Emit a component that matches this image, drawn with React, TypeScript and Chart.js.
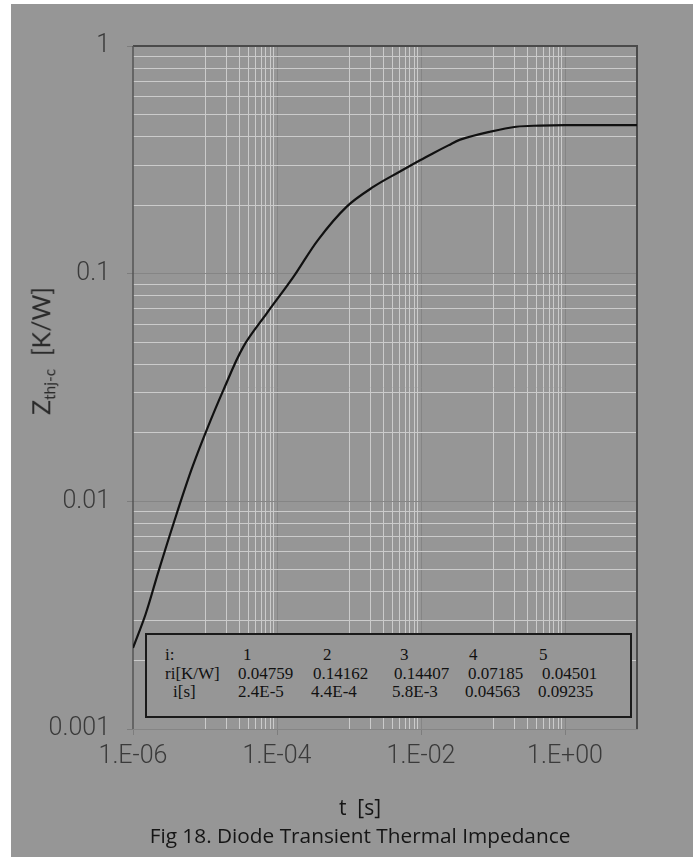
import React, { useEffect, useRef } from "react";
import { Chart, registerables } from "chart.js";

Chart.register(...registerables);

// ---- data ----
const timeS = [1e-6, 1.5e-6, 2.25e-6, 3.8e-6, 6.5e-6, 1.05e-5, 1.8e-5, 3.4e-5, 7.2e-5, 1.7e-4, 3.7e-4, 9.3e-4, 2.2e-3, 5.1e-3, 9.7e-3, 1.5e-2, 2.4e-2, 3.5e-2, 9.1e-2, 0.21, 0.45, 1, 10];
const zthKW = [0.00227, 0.0032, 0.0049, 0.0083, 0.0138, 0.0205, 0.0308, 0.0477, 0.0669, 0.097, 0.1405, 0.197, 0.241, 0.281, 0.315, 0.339, 0.366, 0.388, 0.42, 0.442, 0.447, 0.449, 0.449];

const xLabelValues = [1e-6, 1e-4, 1e-2, 1];
const xLabelTexts = ["1.E-06", "1.E-04", "1.E-02", "1.E+00"];
const xMinorDecades = [1e-5, 1e-3, 1e-1];
const xMin = 1e-6;
const xMax = 10;

const yLabelValues = [0.001, 0.01, 0.1, 1];
const yLabelTexts = ["0.001", "0.01", "0.1", "1"];
const yMinorDecades = [0.001, 0.01, 0.1];
const yMin = 0.001;
const yMax = 1;

const tableHeader = ["i:", "ri[K/W]", "i[s]"];
const tableIndex = ["1", "2", "3", "4", "5"];
const tableRi = ["0.04759", "0.14162", "0.14407", "0.07185", "0.04501"];
const tableTau = ["2.4E-5", "4.4E-4", "5.8E-3", "0.04563", "0.09235"];

const multipliers = [1, 2, 3, 4, 5, 6, 7, 8, 9];

// ---- layout / style ----
const BG = "#969696";
const MINOR = "#cbcbcb";
const MAJOR = "#858585";
const TICK_FONT = { family: "Roboto", size: 25, weight: "300" as any };
const TICK_COLOR = "#3a3a3a";

const near = (a: number, b: number) => Math.abs(Math.log10(a) - Math.log10(b)) < 1e-6;
const labelIndex = (vals: number[], v: number) => vals.findIndex((x) => near(x, v));

function buildGrid(minors: number[], labels: number[], max: number) {
  const out: number[] = [];
  labels.forEach((v) => out.push(v));
  minors.forEach((d) => multipliers.forEach((m) => out.push(d * m)));
  out.push(max);
  const uniq: number[] = [];
  out.sort((a, b) => a - b).forEach((v) => {
    if (!uniq.some((u) => near(u, v))) uniq.push(v);
  });
  return uniq;
}

const xGrid = buildGrid(xMinorDecades, xLabelValues, xMax);
const yGrid = buildGrid(yMinorDecades, yLabelValues, yMax);

const framePlugin = {
  id: "frame",
  beforeDatasetsDraw(chart: any) {
    const { ctx, chartArea: a } = chart;
    ctx.save();
    ctx.strokeStyle = "#4a4a4a";
    ctx.lineWidth = 2;
    ctx.beginPath();
    ctx.moveTo(a.left, a.top);
    ctx.lineTo(a.right, a.top);
    ctx.lineTo(a.right, a.bottom);
    ctx.stroke();
    ctx.strokeStyle = "#555555";
    ctx.lineWidth = 1.5;
    ctx.beginPath();
    ctx.moveTo(a.left, a.top);
    ctx.lineTo(a.left, a.bottom);
    ctx.stroke();
    ctx.restore();
  },
};

export default function App() {
  const ref = useRef<HTMLCanvasElement>(null);

  useEffect(() => {
    if (!ref.current) return;
    const chart = new Chart(ref.current, {
      type: "line",
      data: {
        datasets: [
          {
            data: timeS.map((t, i) => ({ x: t, y: zthKW[i] })),
            borderColor: "#111111",
            borderWidth: 2.2,
            pointRadius: 0,
            fill: false,
            tension: 0.35,
          } as any,
        ],
      },
      options: {
        animation: false,
        responsive: false,
        maintainAspectRatio: false,
        layout: { padding: { left: 0, right: 63, top: 46, bottom: 0 } },
        plugins: {
          legend: { display: false },
          tooltip: { enabled: false },
          title: { display: false },
        },
        scales: {
          x: {
            type: "logarithmic",
            min: xMin,
            max: xMax,
            position: "bottom",
            afterBuildTicks: (s: any) => {
              s.ticks = xGrid.map((v) => ({ value: v }));
            },
            afterFit: (s: any) => {
              s.height = 128;
            },
            ticks: {
              autoSkip: false,
              maxRotation: 0,
              minRotation: 0,
              padding: 7,
              font: TICK_FONT,
              color: TICK_COLOR,
              callback: (v: any) => {
                const i = labelIndex(xLabelValues, Number(v));
                return i >= 0 ? xLabelTexts[i] : "";
              },
            },
            grid: {
              lineWidth: 1,
              tickLength: 6,
              color: (c: any) => {
                const v = c.tick ? c.tick.value : 0;
                if (near(v, xMax) || near(v, xMin)) return "rgba(0,0,0,0)";
                return labelIndex(xLabelValues, v) >= 0 ? MAJOR : MINOR;
              },
              tickColor: (c: any) => {
                const v = c.tick ? c.tick.value : 0;
                return labelIndex(xLabelValues, v) >= 0 ? "#7d7d7d" : "rgba(0,0,0,0)";
              },
            },
            border: { display: true, color: "#858585", width: 1 },
          } as any,
          y: {
            type: "logarithmic",
            min: yMin,
            max: yMax,
            position: "left",
            afterBuildTicks: (s: any) => {
              s.ticks = yGrid.map((v) => ({ value: v }));
            },
            afterFit: (s: any) => {
              s.width = 133;
            },
            ticks: {
              autoSkip: false,
              padding: 17,
              font: TICK_FONT,
              color: TICK_COLOR,
              callback: (v: any) => {
                const i = labelIndex(yLabelValues, Number(v));
                return i >= 0 ? yLabelTexts[i] : "";
              },
            },
            grid: {
              lineWidth: 1,
              tickLength: 6,
              color: (c: any) => {
                const v = c.tick ? c.tick.value : 0;
                if (near(v, yMax) || near(v, yMin)) return "rgba(0,0,0,0)";
                return labelIndex(yLabelValues, v) >= 0 ? MAJOR : MINOR;
              },
              tickColor: (c: any) => {
                const v = c.tick ? c.tick.value : 0;
                return labelIndex(yLabelValues, v) >= 0 ? "#7d7d7d" : "rgba(0,0,0,0)";
              },
            },
            border: { display: false },
          } as any,
        },
      },
      plugins: [framePlugin],
    });
    return () => chart.destroy();
  }, []);

  const rowY = [655, 674, 692];
  const headerX = [165, 165, 173];
  const colX = [
    [243, 323, 400, 469, 539],
    [238, 313, 394, 468, 542],
    [238, 311, 392, 465, 538],
  ];
  const rows = [tableIndex, tableRi, tableTau];
  const serif = { fontFamily: "'Liberation Serif', 'Times New Roman', serif", fontSize: 17, color: "#111" };

  return (
    <div style={{ position: "fixed", left: 0, top: 0, width: 700, height: 857, background: "#ffffff", overflow: "hidden" }}>
      <div style={{ position: "absolute", left: 11, top: 4, width: 682, height: 853, background: BG }} />
      <canvas ref={ref} width={700} height={857} style={{ position: "absolute", left: 0, top: 0, width: 700, height: 857 }} />
      {/* parameter table */}
      <div
        style={{
          position: "absolute",
          left: 145,
          top: 633,
          width: 487,
          height: 85,
          boxSizing: "border-box",
          border: "2px solid #1a1a1a",
          background: BG,
        }}
      />
      {rows.map((r, ri) => (
        <React.Fragment key={ri}>
          <span style={{ ...serif, position: "absolute", left: headerX[ri], top: rowY[ri] - 10, lineHeight: "20px", whiteSpace: "nowrap" }}>
            {tableHeader[ri]}
          </span>
          {r.map((txt, ci) => (
            <span
              key={ci}
              style={{ ...serif, position: "absolute", left: colX[ri][ci], top: rowY[ri] - 10, lineHeight: "20px", whiteSpace: "nowrap" }}
            >
              {txt}
            </span>
          ))}
        </React.Fragment>
      ))}
      {/* y axis title */}
      <div
        style={{
          position: "absolute",
          left: 45,
          top: 351,
          transform: "translate(-50%, -50%) rotate(-90deg)",
          whiteSpace: "nowrap",
          fontFamily: "Lato, 'Open Sans', sans-serif",
          fontSize: 25,
          color: "#2a2a2a",
          lineHeight: "28px",
        }}
      >
        Z<sub style={{ fontSize: "62%", verticalAlign: "-0.35em" }}>thj-c</sub>
        {"\u00a0\u00a0[K/W]"}
      </div>
      {/* x axis title */}
      <div
        style={{
          position: "absolute",
          left: 360,
          top: 807,
          transform: "translate(-50%, -50%)",
          whiteSpace: "nowrap",
          fontFamily: "'Open Sans', Lato, sans-serif",
          fontSize: 21,
          color: "#151515",
          lineHeight: "24px",
        }}
      >
        {"t\u00a0\u00a0[s]"}
      </div>
      {/* caption */}
      <div
        style={{
          position: "absolute",
          left: 360,
          top: 835,
          transform: "translate(-50%, -50%)",
          whiteSpace: "nowrap",
          fontFamily: "'Open Sans', Lato, sans-serif",
          fontSize: 20.8,
          color: "#151515",
          lineHeight: "24px",
        }}
      >
        Fig 18. Diode Transient Thermal Impedance
      </div>
    </div>
  );
}
